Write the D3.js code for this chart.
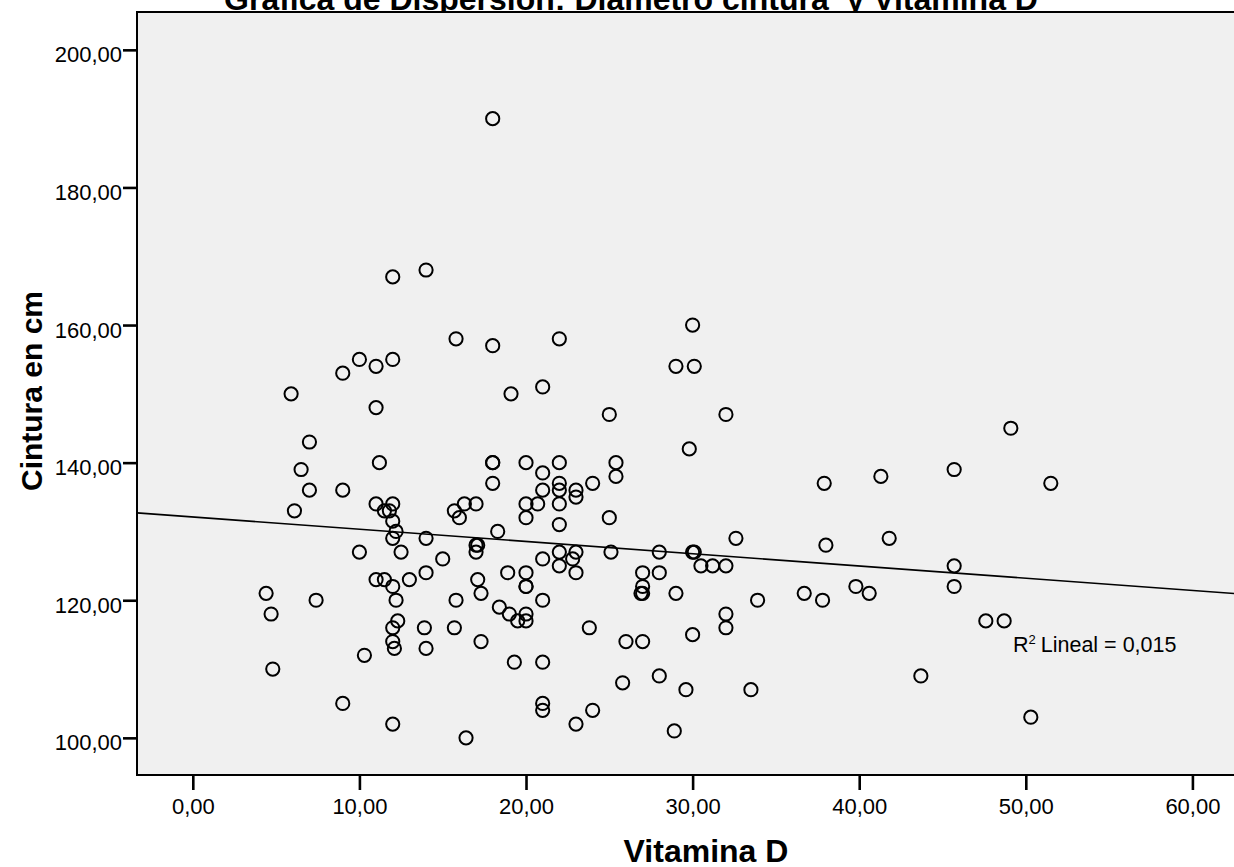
<!DOCTYPE html>
<html>
  <head>
    <meta charset="utf-8">
    <title>Gráfica de Dispersión</title>
    <script src="https://cdn.jsdelivr.net/npm/d3@7/dist/d3.min.js"></script>
    <style>
      body {margin:0; background:#fff;}
      text {font-family:"Liberation Sans", Arial, sans-serif;}
    </style>
  </head>
  <body>
  <script>
    // values
    var vitaminaD = [4.4,4.7,4.8,5.9,6.1,6.5,7.0,7.0,7.4,9.0,9.0,9.0,10.0,10.0,10.3,11.0,11.0,11.0,11.0,11.2,
      11.5,11.5,11.8,12.0,12.0,12.0,12.0,12.0,12.0,12.0,12.0,12.1,12.0,12.2,12.2,12.3,12.5,13.0,14.0,14.0,
      14.0,13.9,14.0,15.0,15.8,15.7,15.8,15.7,16.0,16.3,16.4,17.0,17.0,17.1,17.0,17.1,17.3,17.3,18.0,18.0,
      18.0,18.0,18.0,18.3,18.4,18.9,19.1,19.0,19.3,19.5,20.0,20.0,20.0,20.0,20.0,20.0,20.0,20.0,20.7,21.0,
      21.0,21.0,21.0,21.0,21.0,21.0,21.0,22.0,22.0,22.0,22.0,22.0,22.0,22.0,22.0,22.8,23.0,23.0,23.0,23.0,
      23.0,23.8,24.0,24.0,25.0,25.0,25.1,25.4,25.4,25.8,26.0,26.9,27.0,27.0,27.0,27.0,28.0,28.0,28.0,28.9,
      29.0,29.0,29.6,29.8,30.0,30.0,30.1,30.0,30.1,30.5,31.2,32.0,32.0,32.0,32.0,32.6,33.5,33.9,36.7,37.9,
      37.8,38.0,39.8,40.6,41.3,41.8,43.7,45.7,45.7,45.7,47.6,48.7,49.1,50.3,51.5];
    var cintura = [121,118,110,150,133,139,143,136,120,153,136,105,155,127,112,154,148,134,123,140,
      133,123,133,167,155,134,131.5,129,122,116,114,113,102,130,120,117,127,123,168,129,
      124,116,113,126,158,133,120,116,132,134,100,134,128,128,127,123,121,114,190,157,
      140,140,137,130,119,124,150,118,111,117,140,134,132,124,122,122,118,117,134,151,
      138.5,136,126,120,111,105,104,158,140,137,136,134,131,127,125,126,136,135,127,124,
      102,116,137,104,147,132,127,140,138,108,114,121,124,122,121,114,127,124,109,101,
      154,121,107,142,160,127,127,115,154,125,125,125,147,118,116,129,107,120,121,137,
      120,128,122,121,138,129,109,139,125,122,117,117,145,103,137];

    var xTicks = [0, 10, 20, 30, 40, 50, 60];
    var yTicks = [100, 120, 140, 160, 180, 200];
    var xDomain = [-3.35, 62.6];
    var yDomain = [94.6, 205.5];

    // fit line as shown in the chart
    var fitIntercept = 132.1;
    var fitSlope = -0.178;
    var r2Label = "0,015";

    var width = 1234, height = 867;
    var plotLeft = 137, plotTop = 12, plotBottom = 775;
    var plotRight = plotLeft + (xDomain[1] - xDomain[0]) * 16.66;

    var svg = d3.select("body").append("svg")
      .attr("width", width)
      .attr("height", height);

    var x = d3.scaleLinear().domain(xDomain).range([plotLeft, plotRight]);
    var y = d3.scaleLinear().domain(yDomain).range([plotBottom, plotTop]);
    var fmt = function(v) { return d3.format(".2f")(v).replace(".", ","); };

    svg.append("text")
      .attr("x", 631).attr("y", 10)
      .attr("text-anchor", "middle")
      .attr("font-size", 32).attr("font-weight", "bold")
      .style("white-space", "pre")
      .text("Gráfica de Dispersión: Diámetro cintura  y Vitamina D");

    svg.append("rect")
      .attr("x", plotLeft).attr("y", plotTop)
      .attr("width", plotRight - plotLeft).attr("height", plotBottom - plotTop)
      .attr("fill", "#f0f0f0")
      .attr("stroke", "#000").attr("stroke-width", 2);

    var points = vitaminaD.map(function(v, i) { return {x: v, y: cintura[i]}; });

    svg.append("defs").append("clipPath").attr("id", "plot")
      .append("rect").attr("x", plotLeft).attr("y", plotTop)
      .attr("width", plotRight - plotLeft).attr("height", plotBottom - plotTop);

    svg.append("line")
      .attr("clip-path", "url(#plot)")
      .attr("x1", x(xDomain[0])).attr("y1", y(fitIntercept + fitSlope * xDomain[0]))
      .attr("x2", x(xDomain[1])).attr("y2", y(fitIntercept + fitSlope * xDomain[1]))
      .attr("stroke", "#000").attr("stroke-width", 1.6);

    svg.append("g").selectAll("circle")
      .data(points)
      .enter()
      .append("circle")
      .attr("cx", function(d) { return x(d.x); })
      .attr("cy", function(d) { return y(d.y); })
      .attr("r", 6.6)
      .attr("fill", "none")
      .attr("stroke", "#000")
      .attr("stroke-width", 2);

    // axes
    var xAxis = svg.append("g")
      .attr("transform", "translate(0," + plotBottom + ")")
      .call(d3.axisBottom(x).tickValues(xTicks).tickFormat(fmt).tickSize(15).tickPadding(7));
    var yAxis = svg.append("g")
      .attr("transform", "translate(" + plotLeft + ",0)")
      .call(d3.axisLeft(y).tickValues(yTicks).tickFormat(fmt).tickSize(14).tickPadding(1));
    [xAxis, yAxis].forEach(function(g) {
      g.select(".domain").remove();
      g.selectAll(".tick line").attr("stroke", "#000").attr("stroke-width", 2.6);
      g.selectAll(".tick text").attr("font-size", 22).attr("fill", "#000")
        .attr("font-family", "'Liberation Sans', Arial, sans-serif");
    });
    yAxis.selectAll(".tick text").attr("dy", "0.55em");
    xAxis.selectAll(".tick text").attr("dy", "0.75em");

    svg.append("text")
      .attr("x", 706).attr("y", 862)
      .attr("text-anchor", "middle")
      .attr("font-size", 32).attr("font-weight", "bold")
      .text("Vitamina D");

    svg.append("text")
      .attr("transform", "translate(42,391) rotate(-90)")
      .attr("text-anchor", "middle")
      .attr("font-size", 30).attr("font-weight", "bold")
      .text("Cintura en cm");

    var r2 = svg.append("text")
      .attr("x", 1013).attr("y", 652)
      .attr("font-size", 21.5);
    r2.append("tspan").text("R");
    r2.append("tspan").attr("font-size", 13).attr("dy", -8).text("2");
    r2.append("tspan").attr("dy", 8).attr("dx", 5).text("Lineal = " + r2Label);
  </script>
  </body>
</html>
